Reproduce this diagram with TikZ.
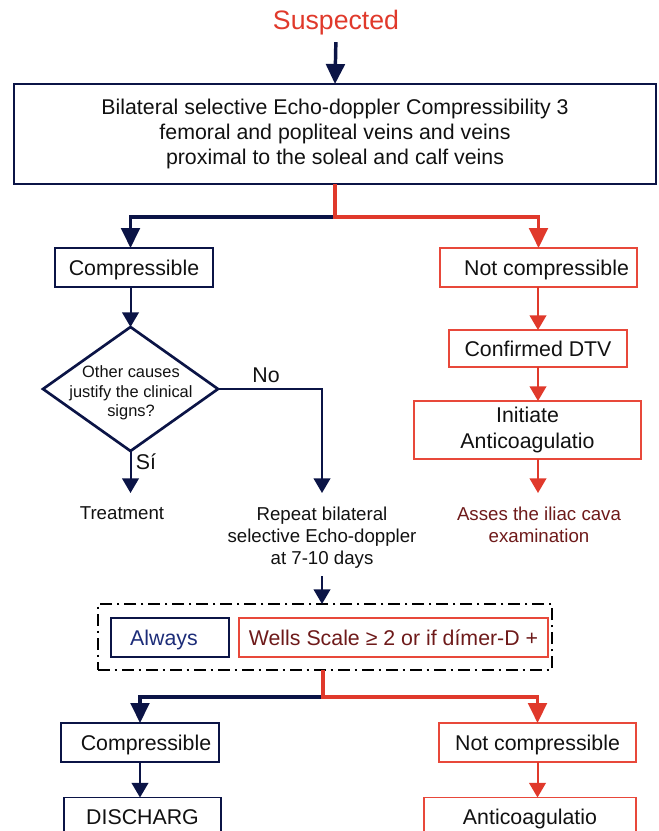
\documentclass[tikz,border=0pt]{standalone}
\usepackage{fontspec}
\setmainfont{Liberation Sans}
\usetikzlibrary{arrows.meta,shapes.geometric}
\definecolor{navy}{HTML}{0B1446}
\definecolor{redA}{HTML}{E0392B}
\definecolor{redB}{HTML}{E8483A}
\definecolor{darkred}{HTML}{6E1A1A}
\definecolor{bluetxt}{HTML}{1C2C78}
\definecolor{txt}{HTML}{111111}
\begin{document}
\begin{tikzpicture}[x=0.75pt,y=-0.75pt,
  every node/.style={inner sep=0pt, outer sep=0pt, text=txt},
  bigtxt/.style={font=\fontsize{16}{19}\selectfont, align=center},
  smalltxt/.style={font=\fontsize{14}{16.5}\selectfont, align=center},
  oneline/.style={text height=11.5pt, text depth=0pt},
  nbox/.style={draw=navy, line width=1.3pt, bigtxt},
  rbox/.style={draw=redB, line width=1.3pt, bigtxt},
  bigtip/.style={-{Triangle[length=15pt,width=14pt]}},
  smalltip/.style={-{Triangle[length=11pt,width=12.5pt]}},
  navyfat/.style={draw=navy, line width=2.6pt, bigtip},
  redfat/.style={draw=redA, line width=2.6pt, bigtip},
  navythin/.style={draw=navy, line width=1.5pt, smalltip},
  redthin/.style={draw=redA, line width=1.5pt, smalltip}
]
\useasboundingbox (0,0) rectangle (659,831);
\clip (0,0) rectangle (659,831);

% top
\node[font=\fontsize{20}{24}\selectfont, text=redA] (susp) at (336,23) {Suspected};
\node[nbox, minimum width=481.5pt, minimum height=75pt] (big) at (335,134)
  {Bilateral selective Echo-doppler Compressibility 3\\femoral and popliteal veins and veins\\proximal to the soleal and calf veins};
\draw[navyfat, shorten <=5pt] (susp.south) -- (big.north);

% first level
\node[nbox, oneline, minimum width=118.5pt, minimum height=29.25pt] (comp1) at (134,267.5) {Compressible};
\node[rbox, oneline, minimum width=147.75pt, minimum height=29.25pt] (ncomp1) at (538.5,267.5) {\hspace*{12pt}Not compressible};
\node[diamond, draw=navy, line width=2pt, minimum width=131.25pt, minimum height=93pt] (dia) at (130.5,389) {};
\node[font=\fontsize{12.3}{14.6}\selectfont, align=center] (dtext) at (131,393) {Other causes\\justify the clinical\\signs?};
\coordinate (b1) at (335,217);
\draw[navyfat] (b1) -| (comp1.north -| dia.north);
\draw[redfat] (big.south) -- (b1) -| (ncomp1.north);

\draw[navythin] (comp1.south -| dia.north) -- (dia.north);
\node[bigtxt] (no) at (266,375) {No};
\node[bigtxt] (si) at (146,462) {Sí};
\node[smalltxt, anchor=north] (treat) at (122,507) {Treatment};
\node[smalltxt, anchor=north] (rep) at (322,507) {Repeat bilateral\\selective Echo-doppler\\at 7-10 days};
\draw[navythin, shorten >=10.5pt] (dia.south) -- (dia.south |- treat.north);
\draw[navythin, shorten >=10.5pt] (dia.east) -| (rep.north);

% red column
\node[rbox, oneline, minimum width=133.5pt, minimum height=27.75pt] (conf) at (538,348.5) {Confirmed DTV};
\node[rbox, minimum width=170.25pt, minimum height=43.5pt] (init) at (527.5,430) {Initiate\\Anticoagulatio};
\node[smalltxt, anchor=north, text=darkred] (asses) at (539,507) {Asses the iliac cava\\examination};
\draw[redthin] (ncomp1.south -| conf.north) -- (conf.north);
\draw[redthin] (conf.south) -- (conf.south |- init.north);
\draw[redthin, shorten >=10.5pt] (conf.south |- init.south) -- (conf.south |- asses.north);

% dash-dot frame
\node[draw=black, line width=2.2pt, dash pattern=on 9pt off 3.5pt on 2pt off 3.5pt,
      minimum width=340.5pt, minimum height=49.5pt] (frame) at (325,637) {};
\node[draw=navy, line width=1.3pt, oneline, minimum width=88.5pt, minimum height=29.25pt,
      font=\fontsize{16}{19}\selectfont, text=bluetxt] (always) at (170,637.5) {Always\hspace*{9pt}};
\node[draw=redB, line width=1.3pt, oneline, minimum width=231.75pt, minimum height=29.25pt,
      font=\fontsize{16}{19}\selectfont, text=darkred] (wells) at (393.5,637.5) {Wells Scale ≥ 2 or if dímer-D +};
\draw[navythin, shorten <=6pt] (rep.south) -- (rep.south |- frame.north);

% second level
\node[nbox, oneline, minimum width=118.5pt, minimum height=29.25pt] (comp2) at (140,742.5) {\hspace*{9pt}Compressible};
\node[rbox, oneline, minimum width=147.75pt, minimum height=29.25pt] (ncomp2) at (537.5,742.5) {Not compressible};
\node[nbox, oneline, minimum width=117.75pt, minimum height=29.25pt] (disch) at (142.5,817) {DISCHARG};
\node[rbox, oneline, minimum width=159pt, minimum height=29.25pt] (anti) at (530,817) {Anticoagulatio};
\coordinate (b2) at (323,697);
\draw[navyfat] (b2) -| (comp2.north);
\draw[redfat] (frame.south -| b2) -- (b2) -| (ncomp2.north);
\draw[navythin] (comp2.south) -- (comp2.south |- disch.north);
\draw[redthin] (ncomp2.south) -- (ncomp2.south |- anti.north);
\end{tikzpicture}
\end{document}
